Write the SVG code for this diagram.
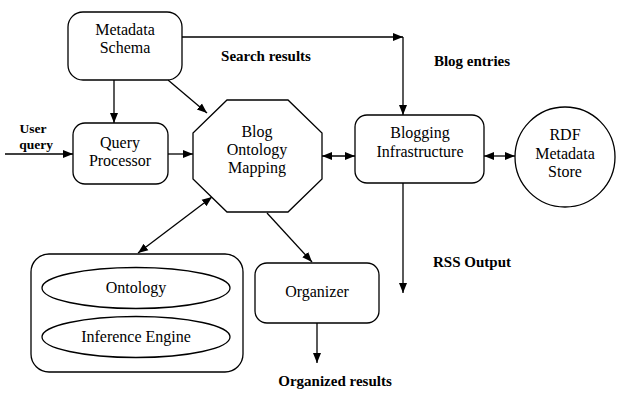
<svg xmlns="http://www.w3.org/2000/svg" width="624" height="400" viewBox="0 0 624 400">
<style>
.n{fill:#fff;stroke:#000;stroke-width:1.3}
.t{font-family:"Liberation Serif","DejaVu Serif",serif;font-size:16px;fill:#000;text-anchor:middle}
.b{font-family:"Liberation Serif","DejaVu Serif",serif;font-size:15px;font-weight:bold;fill:#000;text-anchor:middle}
.c{fill:none;stroke:#000;stroke-width:1.3}
</style>
<defs>
<marker id="ah" viewBox="0 0 10 10" refX="10" refY="5" markerWidth="10" markerHeight="10" markerUnits="userSpaceOnUse" orient="auto-start-reverse">
<path d="M0,1 L10,5 L0,9 Z" fill="#000"/>
</marker>
</defs>
<g id="connectors">
<path class="c" d="M182,37 H403" marker-end="url(#ah)"/>
<path class="c" d="M403,37 V115" marker-end="url(#ah)"/>
<path class="c" d="M114,80 V123" marker-end="url(#ah)"/>
<path class="c" d="M168,80 L207,113" marker-end="url(#ah)"/>
<path class="c" d="M5,154 H73" marker-end="url(#ah)"/>
<path class="c" d="M168,154 H193" marker-end="url(#ah)"/>
<path class="c" d="M322,156 H355" marker-start="url(#ah)" marker-end="url(#ah)"/>
<path class="c" d="M484,156 H515" marker-start="url(#ah)" marker-end="url(#ah)"/>
<path class="c" d="M403,183 V293" marker-end="url(#ah)"/>
<path class="c" d="M212,197 L138,253" marker-start="url(#ah)" marker-end="url(#ah)"/>
<path class="c" d="M267,213 L312,262" marker-end="url(#ah)"/>
<path class="c" d="M317,323 V363" marker-end="url(#ah)"/>
</g>
<g id="metadata-schema">
<rect class="n" x="68" y="12" width="114" height="68" rx="15"/>
<text class="t" x="125" y="35">Metadata</text>
<text class="t" x="125" y="53">Schema</text>
</g>
<g id="query-processor">
<rect class="n" x="73" y="123" width="95" height="61" rx="12"/>
<text class="t" x="120" y="148">Query</text>
<text class="t" x="120" y="166">Processor</text>
</g>
<g id="blog-ontology-mapping">
<polygon class="n" points="227,100 288,100 322,133 322,179 288,212 227,212 193,179 193,133"/>
<text class="t" x="257" y="137">Blog</text>
<text class="t" x="257" y="155">Ontology</text>
<text class="t" x="257" y="173">Mapping</text>
</g>
<g id="blogging-infrastructure">
<rect class="n" x="355" y="115" width="129" height="68" rx="12"/>
<text class="t" x="420" y="138">Blogging</text>
<text class="t" x="420" y="157">Infrastructure</text>
</g>
<g id="rdf-metadata-store">
<circle class="n" cx="565" cy="157" r="50"/>
<text class="t" x="565" y="140">RDF</text>
<text class="t" x="565" y="159">Metadata</text>
<text class="t" x="565" y="177">Store</text>
</g>
<g id="knowledge-base">
<rect class="n" x="31" y="254" width="212" height="118" rx="18"/>
<g id="ontology">
<ellipse class="n" cx="136" cy="288" rx="94" ry="20.5"/>
<text class="t" x="136" y="293">Ontology</text>
</g>
<g id="inference-engine">
<ellipse class="n" cx="136" cy="337" rx="94" ry="20.5"/>
<text class="t" x="136" y="342">Inference Engine</text>
</g>
</g>
<g id="organizer">
<rect class="n" x="255" y="263" width="124" height="60" rx="12"/>
<text class="t" x="317" y="297">Organizer</text>
</g>
<g id="labels">
<text class="b" x="266" y="61">Search results</text>
<text class="b" x="472" y="66">Blog entries</text>
<text class="b" x="472" y="267">RSS Output</text>
<text class="b" x="335" y="386">Organized results</text>
<text class="b" x="33" y="133" style="font-size:13.5px">User</text>
<text class="b" x="36" y="149" style="font-size:13.5px">query</text>
</g>
</svg>
